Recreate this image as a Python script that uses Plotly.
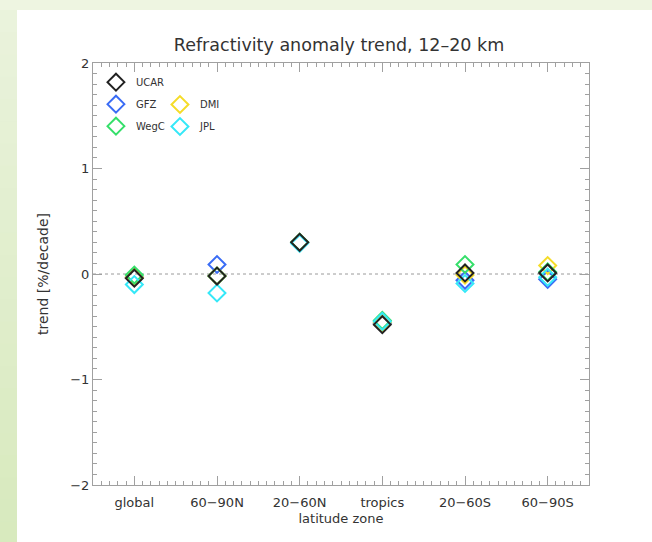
import plotly.graph_objects as go

zones = ["global", "60\u221290N", "20\u221260N", "tropics", "20\u221260S", "60\u221290S"]
zone_pos = [0, 1, 2, 3, 4, 5]

gfz = [-0.03, 0.09, 0.30, -0.47, -0.06, -0.05]
dmi = [-0.03, -0.02, 0.30, -0.46, -0.01, 0.08]
wegc = [-0.01, -0.02, 0.30, -0.44, 0.09, 0.02]
jpl = [-0.10, -0.18, 0.29, -0.45, -0.09, -0.03]
ucar = [-0.04, -0.02, 0.30, -0.48, 0.01, 0.01]

y_ticks = [-2, -1, 0, 1, 2]
y_tick_labels = ["\u22122", "\u22121", "0", "1", "2"]

FONT = "DejaVu Sans"
TXT = "#333333"

series = [
    ("GFZ", gfz, "#3a6cf5", "legend"),
    ("DMI", dmi, "#f5dc28", "legend2"),
    ("WegC", wegc, "#35df6a", "legend"),
    ("JPL", jpl, "#35e8f8", "legend2"),
    ("UCAR", ucar, "#222222", "legend"),
]
legend_rank = {"UCAR": 1, "GFZ": 2, "WegC": 3, "DMI": 1, "JPL": 2}

fig = go.Figure()
for name, vals, col, leg in series:
    fig.add_trace(go.Scatter(
        x=zone_pos, y=vals, mode="markers", name=name,
        marker=dict(symbol="diamond-open", size=13, color=col, line=dict(width=2, color=col)),
        legend=leg, legendrank=legend_rank[name], legendgroup=name,
    ))

# background bands (page look)
shapes = []
shapes.append(dict(type="rect", xref="paper", yref="paper", x0=-0.2, x1=1.2, y0=-0.2, y1=1.2,
                   fillcolor="#eef5e1", line=dict(width=0), layer="below"))
n = 24
top = 1.1256
bot = -0.14
for i in range(n):
    t = i / (n - 1)
    r = int(0xea + (0xd8 - 0xea) * t)
    g = int(0xf3 + (0xea - 0xf3) * t)
    b = int(0xdc + (0xbe - 0xdc) * t)
    y1 = top - (top - bot) * i / n
    y0 = top - (top - bot) * (i + 1) / n
    shapes.append(dict(type="rect", xref="paper", yref="paper", x0=-0.2, x1=-0.1532, y0=y0 - 0.002, y1=y1,
                       fillcolor=f"rgb({r},{g},{b})", line=dict(width=0), layer="below"))
shapes.append(dict(type="rect", xref="paper", yref="paper", x0=-0.1532, x1=1.2, y0=-0.2, y1=top,
                   fillcolor="white", line=dict(width=0), layer="below"))
shapes.append(dict(type="line", xref="x", yref="y", x0=-0.5, x1=5.5, y0=0, y1=0,
                   line=dict(color="#9a9a9a", width=1, dash="dot"), layer="below"))

axis_common = dict(
    showgrid=False, zeroline=False, showline=True, linecolor="#a0a0a0", linewidth=1,
    mirror="ticks", ticks="inside", tickcolor="#a0a0a0", tickwidth=1,
    tickfont=dict(family=FONT, size=13, color=TXT),
)

fig.update_layout(
    width=652, height=542,
    margin=dict(l=93, r=63, t=63, b=57),
    paper_bgcolor="white", plot_bgcolor="rgba(0,0,0,0)",
    shapes=shapes,
    title=dict(text="Refractivity anomaly trend, 12\u201320 km", x=0.52, xanchor="center",
               y=1 - 45 / 542, yanchor="middle",
               font=dict(family=FONT, size=17.5, color=TXT)),
    xaxis=dict(range=[-0.5, 5.5], tickmode="array", tickvals=zone_pos, ticktext=zones, ticklen=9,
               ticklabelstandoff=5,
               minor=dict(tickmode="linear", tick0=-0.5, dtick=0.1, ticks="inside", ticklen=4,
                          tickcolor="#a0a0a0", showgrid=False),
               title=dict(text="latitude zone", standoff=5,
                          font=dict(family=FONT, size=13, color=TXT)),
               **axis_common),
    yaxis=dict(range=[-2, 2], tickmode="array", tickvals=y_ticks, ticktext=y_tick_labels, ticklen=9,
               minor=dict(tickmode="linear", tick0=0, dtick=0.1, ticks="inside", ticklen=4,
                          tickcolor="#a0a0a0", showgrid=False),
               title=dict(text="trend [%/decade]", standoff=18,
                          font=dict(family=FONT, size=14, color=TXT)),
               **axis_common),
    legend=dict(x=0.006, y=0.989, xanchor="left", yanchor="top", bgcolor="rgba(0,0,0,0)",
                font=dict(family=FONT, size=10, color=TXT),
                traceorder="grouped", itemwidth=30, tracegroupgap=3),
    legend2=dict(x=0.135, y=0.936, xanchor="left", yanchor="top", bgcolor="rgba(0,0,0,0)",
                 font=dict(family=FONT, size=10, color=TXT),
                 traceorder="grouped", itemwidth=30, tracegroupgap=3),
    showlegend=True,
)

fig.write_html("out.html")
